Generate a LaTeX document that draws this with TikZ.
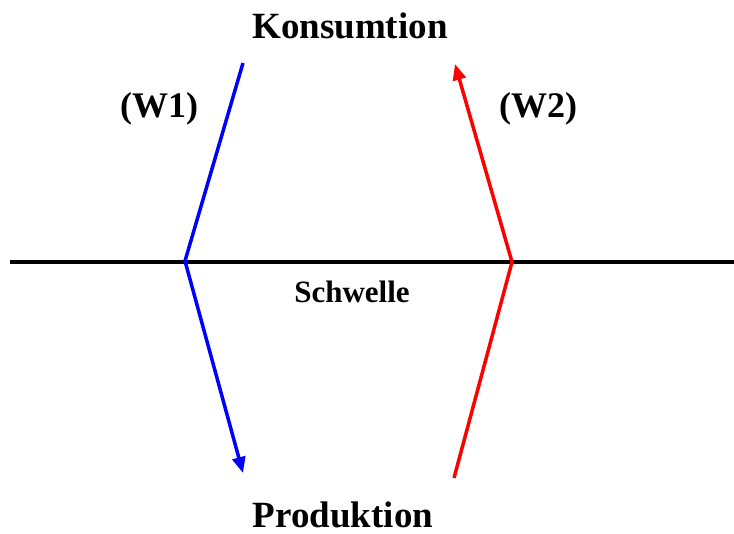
\documentclass[tikz,border=0pt]{standalone}
\usepackage{fontspec}
\setmainfont{Liberation Serif}
\usetikzlibrary{arrows.meta}

\begin{document}
\begin{tikzpicture}[
  x=1pt,y=-1pt,
  title/.style={font=\fontsize{37}{40}\selectfont\bfseries,inner sep=0pt,anchor=base},
  tag/.style={font=\fontsize{36}{40}\selectfont\bfseries,inner sep=0pt,anchor=base},
  small/.style={font=\fontsize{31}{33}\selectfont\bfseries,inner sep=0pt,anchor=base},
  wayone/.style={draw=blue,line width=3.5pt,-{Triangle[length=16pt,width=13pt]}},
  waytwo/.style={draw=red,line width=3.5pt,-{Triangle[length=16pt,width=13pt]}},
  sill/.style={draw=black,line width=3.5pt}
]
\useasboundingbox (0,0) rectangle (734,534);
\node[title] (kons) at (350,39) {Konsumtion};
\node[title] (prod) at (343,527) {Produktion};
\node[tag] (w1) at (159,118) {(W1)};
\node[tag] (w2) at (538,118) {(W2)};
\node[small] (schw) at (352,303) {Schwelle};
% threshold
\coordinate (left) at (10,262);
\coordinate (right) at (734,262);
\draw[sill] (left) -- (right);
% way 1
\coordinate (a1) at (243,63);
\coordinate (b1) at (185,261);
\coordinate (c1) at (243,473);
\draw[wayone] (a1) -- (b1) -- (c1);
% way 2
\coordinate (a2) at (454,478);
\coordinate (b2) at (512,262);
\coordinate (c2) at (455,64);
\draw[waytwo] (a2) -- (b2) -- (c2);
\end{tikzpicture}
\end{document}
